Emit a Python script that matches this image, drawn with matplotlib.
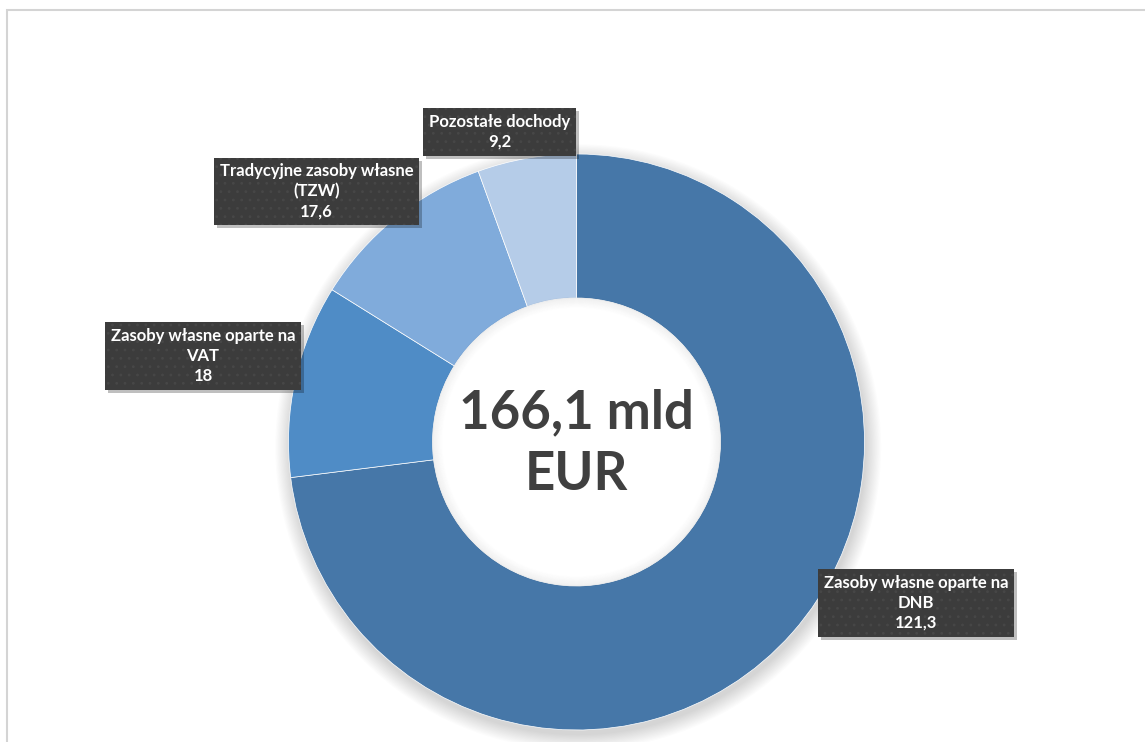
import matplotlib
matplotlib.use("Agg")
import matplotlib.pyplot as plt
from matplotlib.patches import Circle, Rectangle
from matplotlib.transforms import IdentityTransform

# data
categories = ["Zasoby własne oparte na\nDNB", "Zasoby własne oparte na\nVAT",
              "Tradycyjne zasoby własne\n(TZW)", "Pozostałe dochody"]
values = [121.3, 18, 17.6, 9.2]
value_labels = ["121,3", "18", "17,6", "9,2"]
colors = ["#4677A8", "#4F8CC6", "#80ABDB", "#B5CCE8"]
total_label = "166,1 mld\nEUR"

# label box centres in pixels (from top-left)
label_pos = [(916, 603), (203, 356), (316.5, 191.5), (499.5, 132)]

W, H = 1145, 742
CX, CY, R = 576.5, 442, 288

plt.rcParams['font.family'] = ['Lato', 'DejaVu Sans']
plt.rcParams['hatch.linewidth'] = 0.8

fig = plt.figure(figsize=(W / 100, H / 100), dpi=100)
ax = fig.add_axes([0, 0, 1, 1])
ax.axis('off')

def to_data(px, py):
    return (px - CX) / R, (CY - py) / R

# frame of the chart area (cut at right/bottom)
fig.patches.append(Rectangle((7 / W, -0.1), 1.2, (H - 10) / H + 0.1,
                             transform=fig.transFigure, fill=False,
                             edgecolor="#d4d4d4", linewidth=1.5))

# soft shadow below the donut
for i in range(14):
    ax.add_patch(Circle((0.006, -0.018), 1.0 + 0.004 * i, color="black",
                        alpha=0.011, zorder=1, linewidth=0))

wedges, _ = ax.pie(values, colors=colors, startangle=90, counterclock=False,
                   radius=1.0, normalize=True,
                   wedgeprops=dict(width=0.5, edgecolor="white", linewidth=0.5))
for w in wedges:
    w.set_zorder(2)

# limits so that one data unit = outer radius in pixels
ax.set_xlim(-CX / R, (W - CX) / R)
ax.set_ylim((CY - H) / R, CY / R)
ax.set_aspect('equal')

# white hole with a faint inner shadow
ax.add_patch(Circle((0, 0), 0.5, color="white", zorder=2.5, linewidth=0))
for i in range(10):
    ax.add_patch(Circle((0, 0), 0.5 - 0.0035 * i, fill=False, edgecolor="black",
                        alpha=0.03 * (10 - i) / 10, linewidth=1.5, zorder=3))

ax.text(0, -0.005, total_label, ha="center", va="center", fontsize=38,
        fontweight="bold", color="#404040", linespacing=1.32, zorder=5)

labels = []
for cat, val, (px, py) in zip(categories, value_labels, label_pos):
    x, y = to_data(px, py)
    t = ax.text(x, y, f"{cat}\n{val}", ha="center", va="center", fontsize=12,
                fontweight="bold", color="white", linespacing=1.3, zorder=6,
                bbox=dict(boxstyle="square,pad=0.35", facecolor="#3c3c3c",
                          edgecolor="#474747", hatch="..", linewidth=0))
    labels.append(t)

# drop shadows of the label boxes
fig.canvas.draw()
for t in labels:
    bb = t.get_bbox_patch().get_window_extent()
    ax.add_patch(Rectangle((bb.x0 + 3, bb.y0 - 3), bb.width, bb.height,
                           transform=IdentityTransform(), facecolor="black",
                           alpha=0.25, linewidth=0, zorder=5.5))

fig.savefig("out.png", dpi=100, facecolor="white")
